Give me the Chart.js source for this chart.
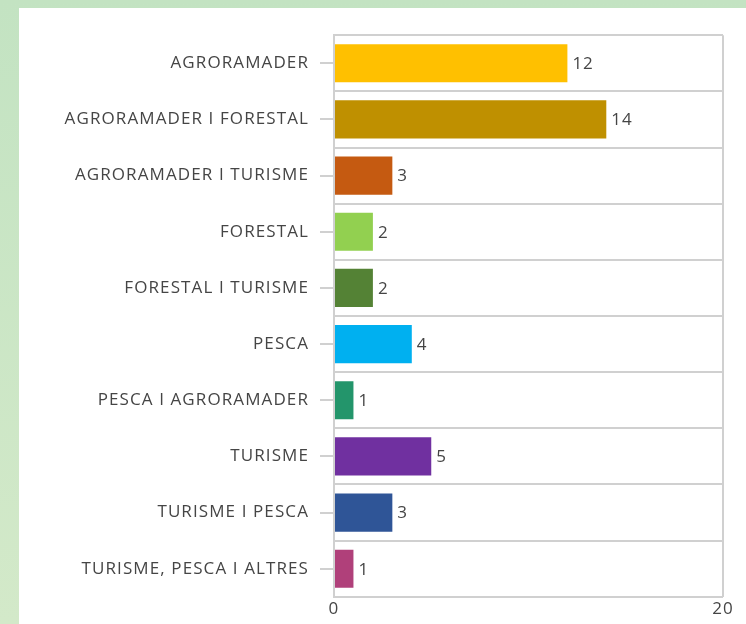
<!DOCTYPE html>
<html>
<head>
<meta charset="utf-8">
<script src="https://cdn.jsdelivr.net/npm/chart.js@4"></script>
<style>
  html, body { margin:0; padding:0; }
  body { width:746px; height:624px; background:linear-gradient(#c3e3c2, #d3e9c9); position:relative; overflow:hidden; }
  #panel { position:absolute; left:19px; top:8px; width:727px; height:616px; background:#fff; }
  #wrap { position:absolute; left:0; top:0; width:746px; height:632px; }
</style>
</head>
<body>
<div id="panel"></div>
<div id="wrap"><canvas id="c" width="746" height="632"></canvas></div>
<script>
const categories = [
  "AGRORAMADER",
  "AGRORAMADER I FORESTAL",
  "AGRORAMADER I TURISME",
  "FORESTAL",
  "FORESTAL I TURISME",
  "PESCA",
  "PESCA I AGRORAMADER",
  "TURISME",
  "TURISME I PESCA",
  "TURISME, PESCA I ALTRES"
];
const values = [12, 14, 3, 2, 2, 4, 1, 5, 3, 1];
const barColors = ["#FFC000", "#BF9000", "#C55A11", "#92D050", "#548235", "#00B0F0", "#23956B", "#7030A0", "#2F5597", "#B0407A"];
const xTicks = [0, 20];

const FONT = "'Open Sans', sans-serif";
const TEXT = "#454545";
const GRID = "#d0d0d0";
const SPACING = "1.1px";

const extras = {
  id: 'extras',
  beforeInit(chart) { chart.ctx.letterSpacing = SPACING; },
  beforeDraw(chart) { chart.ctx.letterSpacing = SPACING; },
  afterDatasetsDraw(chart) {
    const ctx = chart.ctx;
    const y = chart.scales.y;
    const x = chart.scales.x;
    ctx.save();
    ctx.strokeStyle = GRID;
    ctx.lineWidth = 2;
    categories.forEach((c, i) => {
      const py = Math.round(y.getPixelForValue(i));
      ctx.beginPath();
      ctx.moveTo(x.left - 14, py);
      ctx.lineTo(x.left, py);
      ctx.stroke();
    });
    ctx.fillStyle = TEXT;
    ctx.font = "17px " + FONT;
    ctx.letterSpacing = "1px";
    ctx.textAlign = 'left';
    ctx.textBaseline = 'middle';
    const meta = chart.getDatasetMeta(0);
    meta.data.forEach((bar, i) => {
      ctx.fillText(String(values[i]), bar.x + 5, bar.y + 1);
    });
    ctx.restore();
  }
};

new Chart(document.getElementById('c'), {
  type: 'bar',
  data: {
    labels: categories,
    datasets: [{
      data: values,
      backgroundColor: barColors,
      borderWidth: 0,
      barPercentage: 0.68,
      categoryPercentage: 1
    }]
  },
  options: {
    indexAxis: 'y',
    responsive: false,
    animation: false,
    layout: { padding: { top: 34, right: 23, left: 0, bottom: 0 } },
    plugins: { legend: { display: false }, tooltip: { enabled: false } },
    scales: {
      x: {
        min: 0, max: 20,
        afterFit(s) { s.height = 27; },
        afterBuildTicks(s) { s.ticks = xTicks.map(v => ({ value: v })); },
        grid: { color: GRID, lineWidth: 2, drawTicks: false },
        border: { display: false },
        ticks: { color: TEXT, font: { family: FONT, size: 17 }, padding: 2, maxRotation: 0 }
      },
      y: {
        afterFit(s) { s.width = 334; },
        grid: { color: GRID, lineWidth: 2, drawTicks: false, offset: true },
        border: { color: GRID, width: 2 },
        ticks: { color: TEXT, font: { family: FONT, size: 17 }, padding: 25 }
      }
    }
  },
  plugins: [extras]
});
</script>
</body>
</html>
